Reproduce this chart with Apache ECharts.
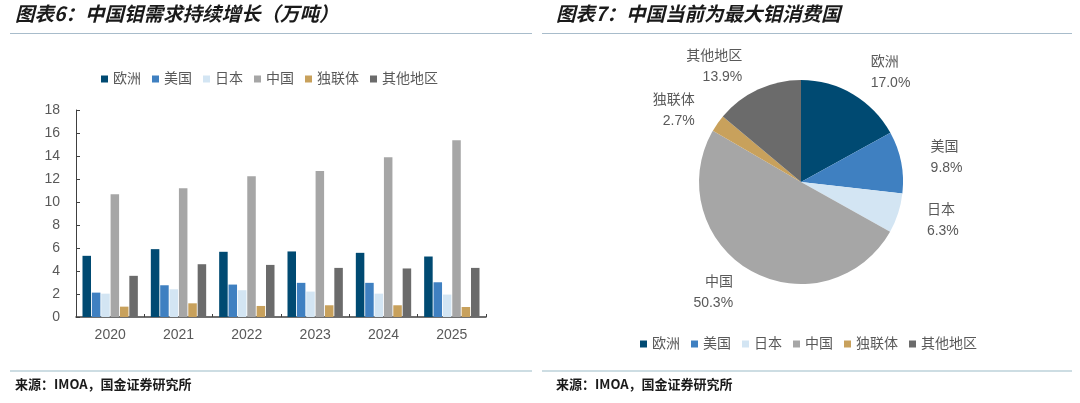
<!DOCTYPE html>
<html>
<head>
<meta charset="utf-8">
<script src="https://cdn.jsdelivr.net/npm/echarts@6/dist/echarts.min.js"></script>
<style>
  html, body { margin: 0; padding: 0; background: #fff; }
  #main { width: 1080px; height: 403px; }
</style>
</head>
<body>
<div id="main"></div>
<script>
// 图表6 数据（万吨）
var years = ['2020', '2021', '2022', '2023', '2024', '2025'];
var regions = ['欧洲', '美国', '日本', '中国', '独联体', '其他地区'];
var europe = [5.32, 5.9, 5.67, 5.7, 5.58, 5.26];
var usa = [2.12, 2.76, 2.82, 2.97, 2.97, 3.02];
var japan = [2.03, 2.41, 2.33, 2.21, 2.03, 1.95];
var china = [10.67, 11.19, 12.24, 12.7, 13.9, 15.38];
var cis = [0.9, 1.19, 0.96, 1.02, 1.02, 0.87];
var others = [3.58, 4.59, 4.53, 4.27, 4.22, 4.27];
var yTicks = [0, 2, 4, 6, 8, 10, 12, 14, 16, 18];

// 图表7 数据（%）
var pieShare = [17.0, 9.8, 6.3, 50.3, 2.7, 13.9];

var colors = ['#004a72', '#3f80c1', '#d3e5f3', '#a6a6a6', '#c8a15c', '#6b6b6b'];
var barData = [europe, usa, japan, china, cis, others];

var fontCN = '"Liberation Sans", "Noto Sans CJK SC", sans-serif';
var fontTitle = '"Noto Sans CJK SC", sans-serif';
var txt = '#595959';

var chart = echarts.init(document.getElementById('main'));

var barSeries = regions.map(function (name, i) {
    return {
        name: name,
        type: 'bar',
        data: barData[i],
        barGap: '10%',
        barCategoryGap: '19%',
        itemStyle: { color: colors[i] }
    };
});

var legendBase = {
    data: regions,
    icon: 'rect',
    itemWidth: 7,
    itemHeight: 7,
    itemGap: 11,
    textStyle: { color: txt, fontSize: 14, fontFamily: fontCN }
};

chart.setOption({
    animation: false,
    textStyle: { fontFamily: fontCN },
    color: colors,
    graphic: [
        { type: 'text', left: 15, top: 4, style: { text: '图表6：中国钼需求持续增长（万吨）', fontSize: 19.5, fontWeight: 'bold', fontStyle: 'italic', fill: '#1a1a1a', fontFamily: fontTitle } },
        { type: 'text', left: 556, top: 4, style: { text: '图表7：中国当前为最大钼消费国', fontSize: 19.5, fontWeight: 'bold', fontStyle: 'italic', fill: '#1a1a1a', fontFamily: fontTitle } },
        { type: 'line', shape: { x1: 10, y1: 33.5, x2: 532, y2: 33.5 }, style: { stroke: '#a8bccb', lineWidth: 1 } },
        { type: 'line', shape: { x1: 542, y1: 33.5, x2: 1072, y2: 33.5 }, style: { stroke: '#a8bccb', lineWidth: 1 } },
        { type: 'line', shape: { x1: 10, y1: 371, x2: 532, y2: 371 }, style: { stroke: '#cddde3', lineWidth: 2 } },
        { type: 'line', shape: { x1: 542, y1: 371, x2: 1072, y2: 371 }, style: { stroke: '#cddde3', lineWidth: 2 } },
        { type: 'text', left: 15, top: 378, style: { text: '来源：IMOA，国金证券研究所', fontSize: 13, fontWeight: 'bold', fill: '#1a1a1a', fontFamily: fontTitle } },
        { type: 'text', left: 556, top: 378, style: { text: '来源：IMOA，国金证券研究所', fontSize: 13, fontWeight: 'bold', fill: '#1a1a1a', fontFamily: fontTitle } }
    ],
    legend: [
        Object.assign({ left: 96, top: 67 }, legendBase),
        Object.assign({ left: 635, top: 332 }, legendBase)
    ],
    grid: { left: 76, right: 594, top: 110, bottom: 86 },
    xAxis: {
        type: 'category',
        data: years,
        axisLine: { lineStyle: { color: '#404040', width: 1.5 } },
        axisTick: { show: true, inside: true, length: 3, lineStyle: { color: '#404040' } },
        axisLabel: { color: txt, fontSize: 14, margin: 11 }
    },
    yAxis: {
        type: 'value',
        min: yTicks[0],
        max: yTicks[yTicks.length - 1],
        interval: 2,
        axisLine: { show: true, lineStyle: { color: '#404040' } },
        axisTick: { show: true, inside: true, length: 4, lineStyle: { color: '#404040' } },
        axisLabel: { color: txt, fontSize: 14, margin: 16 },
        splitLine: { show: false }
    },
    series: barSeries.concat([{
        type: 'pie',
        center: [801, 182],
        radius: 102,
        startAngle: 90,
        clockwise: true,
        data: regions.map(function (name, i) {
            return { name: name, value: pieShare[i], itemStyle: { color: colors[i] } };
        }),
        label: {
            show: true,
            position: 'outside',
            formatter: function (p) { return p.name + '\n' + p.value.toFixed(1) + '%'; },
            color: txt,
            fontSize: 14,
            lineHeight: 21,
            align: 'center'
        },
        labelLine: { show: false, length: 25, length2: 0 },
        emphasis: { disabled: true }
    }])
});
</script>
</body>
</html>
